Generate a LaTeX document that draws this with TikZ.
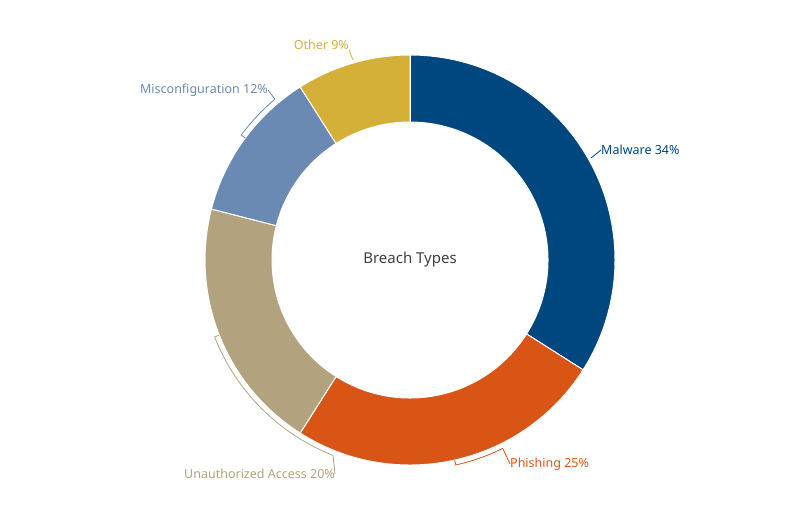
\documentclass[tikz,border=0pt]{standalone}
\usepackage{fontspec}
\setmainfont{Noto Sans}
\begin{document}
\begin{tikzpicture}[x=1pt,y=-1pt]
\definecolor{cMal}{HTML}{00467F}
\definecolor{cPhi}{HTML}{D95516}
\definecolor{cUna}{HTML}{B2A37E}
\definecolor{cMis}{HTML}{6B8AB3}
\definecolor{cOth}{HTML}{D4B038}
\tikzset{seg/.style={fill=#1,draw=white,line width=1pt},
  lead/.style={draw=#1,line width=0.8pt},
  lab/.style={text=#1,font=\fontsize{12.5}{14}\selectfont,inner sep=0pt}}
\useasboundingbox (0,0) rectangle (800,524);
\coordinate (c) at (410,260);
\newcommand{\wedgeseg}[3]{\fill[seg=#3] ([shift={(#1:205)}]c) arc[start angle=#1,end angle=#2,radius=205]
  -- ([shift={(#2:138)}]c) arc[start angle=#2,end angle=#1,radius=138] -- cycle;}
% y axis flipped: angle a in standard math becomes -a
\wedgeseg{-90}{32.4}{cMal}
\wedgeseg{32.4}{122.4}{cPhi}
\wedgeseg{122.4}{194.4}{cUna}
\wedgeseg{194.4}{237.6}{cMis}
\wedgeseg{237.6}{270}{cOth}
\draw[white,line width=1pt] ([shift={(-90:138)}]c)--([shift={(-90:205)}]c);
\node[text=black!75,font=\fontsize{15}{18}\selectfont] (title) at (410,260) {Breach Types};
% labels
\node[lab=cMal,anchor=west] (mal) at (601,150) {Malware 34\%};
\node[lab=cPhi,anchor=west] (phi) at (510,464) {Phishing 25\%};
\node[lab=cUna,anchor=east] (una) at (335,474) {Unauthorized Access 20\%};
\node[lab=cMis,anchor=east] (mis) at (268,90) {Misconfiguration 12\%};
\node[lab=cOth,anchor=east] (oth) at (349,45) {Other 9\%};
% leaders
\coordinate (m1) at (591,158);
\draw[lead=cMal] (m1) -- (mal.west);
\draw[lead=cPhi] ([shift={(77.4:205)}]c) -- ([shift={(77.4:210)}]c) arc[start angle=77.4,end angle=63.8,radius=210] coordinate (p1);
\draw[lead=cPhi] (p1) -- (phi.west);
\draw[lead=cUna] ([shift={(158.5:205)}]c) -- ([shift={(158.5:210)}]c) arc[start angle=158.5,end angle=111.5,radius=210] coordinate (u1);
\draw[lead=cUna] (u1) -- (una.east);
\draw[lead=cMis] ([shift={(216.5:205)}]c) -- ([shift={(216.5:210)}]c) arc[start angle=216.5,end angle=230,radius=210] coordinate (s1);
\draw[lead=cMis] (s1) -- (mis.east);
\coordinate (o1) at (353,60);
\draw[lead=cOth] (o1) -- (oth.south east);
\end{tikzpicture}
\end{document}
